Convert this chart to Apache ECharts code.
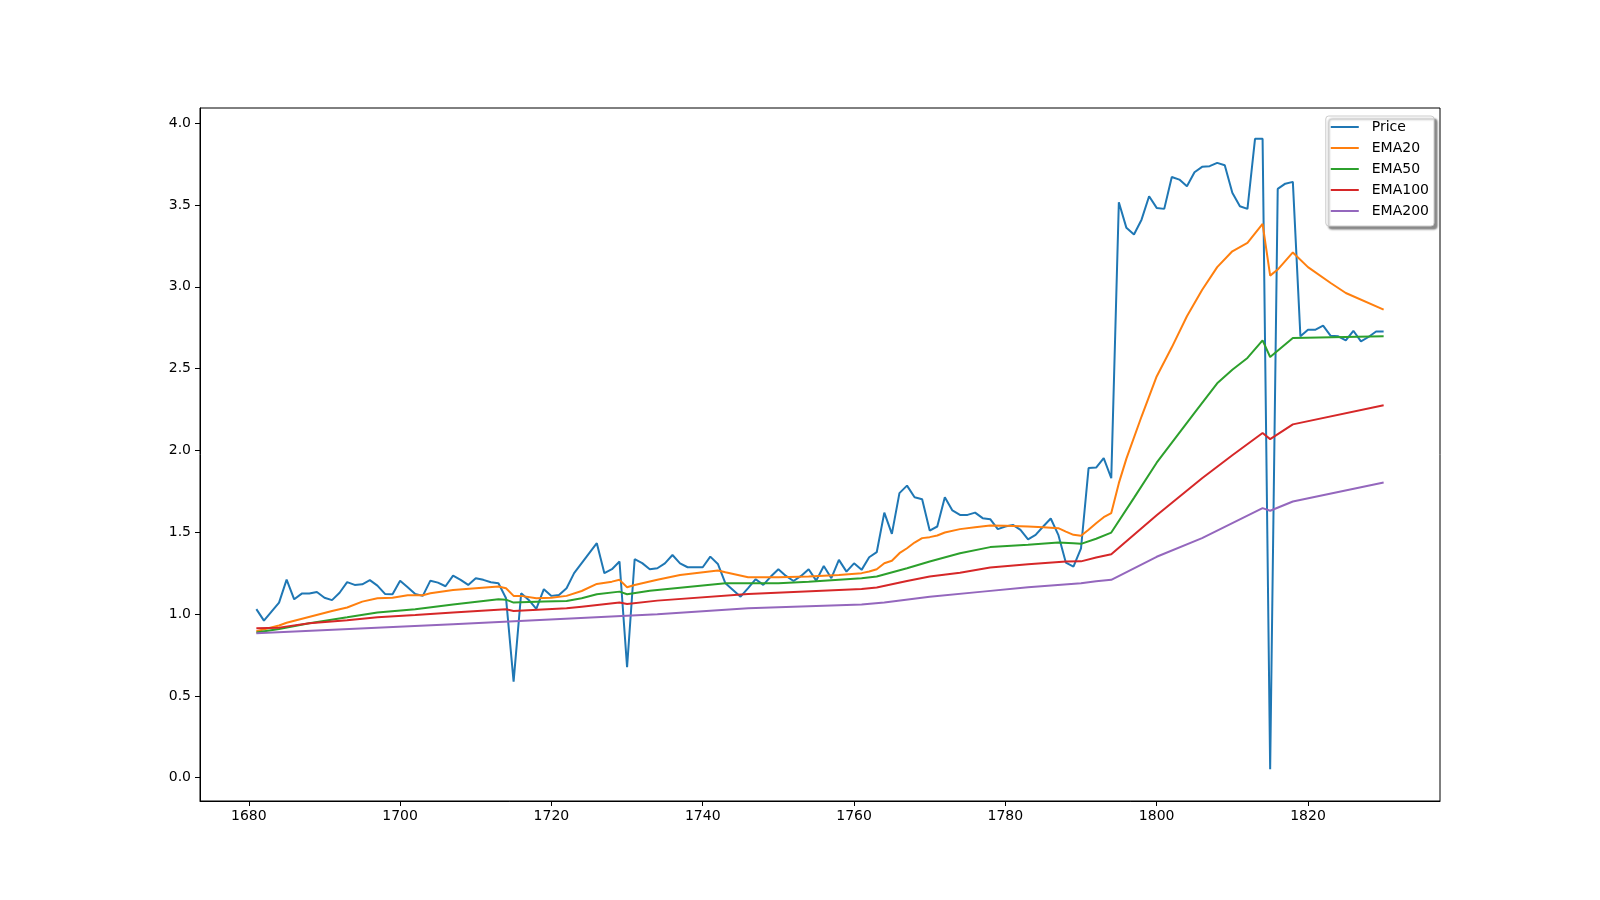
<!DOCTYPE html>
<html>
<head>
<meta charset="utf-8">
<script src="https://cdn.jsdelivr.net/npm/echarts@6/dist/echarts.min.js"></script>
<style>
html,body{margin:0;padding:0;background:#fff;}
#chart{width:1600px;height:900px;}
</style>
</head>
<body>
<div id="chart"></div>
<script>
// ---- data ----
const priceYears = [
1681,1682,1683,1684,1685,1686,1687,1688,1689,1690,
1691,1692,1693,1694,1695,1696,1697,1698,1699,1700,
1701,1702,1703,1704,1705,1706,1707,1708,1709,1710,
1711,1712,1713,1714,1715,1716,1717,1718,1719,1720,
1721,1722,1723,1724,1725,1726,1727,1728,1729,1730,
1731,1732,1733,1734,1735,1736,1737,1738,1739,1740,
1741,1742,1743,1744,1745,1746,1747,1748,1749,1750,
1751,1752,1753,1754,1755,1756,1757,1758,1759,1760,
1761,1762,1763,1764,1765,1766,1767,1768,1769,1770,
1771,1772,1773,1774,1775,1776,1777,1778,1779,1780,
1781,1782,1783,1784,1785,1786,1787,1788,1789,1790,
1791,1792,1793,1794,1795,1796,1797,1798,1799,1800,
1801,1802,1803,1804,1805,1806,1807,1808,1809,1810,
1811,1812,1813,1814,1815,1816,1817,1818,1819,1820,
1821,1822,1823,1824,1825,1826,1827,1828,1829,1830
];
const priceValues = [
1.03,0.96,1.015,1.07,1.21,1.09,1.125,1.125,1.135,1.10,
1.085,1.13,1.195,1.178,1.182,1.207,1.174,1.123,1.121,1.204,
1.164,1.123,1.111,1.204,1.192,1.17,1.235,1.209,1.178,1.219,
1.209,1.194,1.188,1.097,0.587,1.127,1.086,1.031,1.152,1.111,
1.117,1.158,1.25,1.311,1.372,1.433,1.25,1.274,1.321,0.675,
1.335,1.311,1.274,1.28,1.31,1.361,1.31,1.286,1.286,1.286,
1.351,1.306,1.188,1.147,1.106,1.158,1.213,1.178,1.229,1.274,
1.233,1.202,1.233,1.274,1.204,1.294,1.219,1.331,1.259,1.31,
1.27,1.347,1.378,1.62,1.49,1.739,1.785,1.714,1.702,1.51,
1.535,1.714,1.633,1.606,1.606,1.62,1.586,1.58,1.519,1.535,
1.545,1.514,1.457,1.484,1.535,1.584,1.484,1.314,1.29,1.402,
1.892,1.895,1.953,1.83,3.516,3.36,3.319,3.41,3.553,3.482,
3.476,3.671,3.655,3.614,3.70,3.733,3.737,3.757,3.743,3.574,
3.492,3.476,3.904,3.904,0.051,3.598,3.63,3.641,2.697,2.738,
2.738,2.762,2.70,2.697,2.672,2.731,2.666,2.693,2.727,2.727
];

const ema20Years  = [1681,1684,1685,1691,1693,1695,1697,1699,1701,1703,1704,1707,1710,1713,1714,1715,1716,1718,1720,1722,1724,1726,1728,1729,1730,1731,1734,1737,1742,1743,1746,1750,1754,1758,1761,1762,1763,1764,1765,1766,1767,1768,1769,1770,1771,1772,1774,1776,1778,1780,1783,1785,1787,1788,1789,1790,1791,1792,1793,1794,1795,1796,1798,1800,1802,1804,1806,1808,1810,1812,1814,1815,1816,1818,1820,1823,1825,1830];
const ema20Values = [0.895,0.93,0.947,1.019,1.04,1.076,1.097,1.10,1.115,1.115,1.127,1.147,1.158,1.168,1.158,1.111,1.111,1.097,1.10,1.111,1.141,1.184,1.198,1.209,1.164,1.178,1.209,1.239,1.266,1.255,1.225,1.225,1.23,1.239,1.25,1.26,1.274,1.31,1.326,1.372,1.402,1.437,1.464,1.47,1.48,1.498,1.519,1.53,1.541,1.54,1.535,1.53,1.525,1.504,1.484,1.478,1.515,1.555,1.592,1.617,1.80,1.95,2.207,2.452,2.63,2.82,2.98,3.12,3.217,3.268,3.384,3.068,3.105,3.21,3.12,3.023,2.962,2.86];

const ema50Years  = [1681,1684,1688,1693,1697,1702,1707,1713,1714,1715,1719,1722,1724,1726,1729,1730,1733,1742,1743,1750,1754,1761,1763,1767,1770,1774,1778,1783,1787,1789,1790,1792,1794,1797,1800,1805,1808,1810,1812,1814,1815,1818,1830];
const ema50Values = [0.887,0.909,0.944,0.98,1.009,1.029,1.058,1.09,1.088,1.07,1.076,1.08,1.097,1.121,1.137,1.121,1.143,1.184,1.188,1.188,1.198,1.219,1.229,1.28,1.321,1.372,1.409,1.423,1.437,1.433,1.429,1.46,1.498,1.71,1.925,2.23,2.41,2.493,2.565,2.672,2.571,2.687,2.697];

const ema100Years  = [1681,1684,1688,1693,1697,1702,1707,1714,1715,1722,1724,1729,1730,1734,1746,1761,1763,1767,1770,1774,1778,1783,1788,1790,1792,1794,1800,1806,1810,1814,1815,1818,1830];
const ema100Values = [0.913,0.917,0.944,0.962,0.98,0.994,1.009,1.029,1.019,1.035,1.045,1.07,1.062,1.082,1.123,1.153,1.162,1.202,1.229,1.253,1.284,1.305,1.321,1.322,1.345,1.366,1.604,1.83,1.97,2.106,2.069,2.159,2.276];

const ema200Years  = [1681,1707,1734,1746,1761,1764,1770,1777,1783,1790,1792,1794,1800,1806,1814,1815,1818,1830];
const ema200Values = [0.883,0.938,0.999,1.035,1.058,1.07,1.105,1.137,1.164,1.188,1.20,1.209,1.35,1.464,1.647,1.631,1.688,1.804];

const xTicks = [1680,1700,1720,1740,1760,1780,1800,1820];
const yTicks = [0.0,0.5,1.0,1.5,2.0,2.5,3.0,3.5,4.0];
const seriesNames = ['Price','EMA20','EMA50','EMA100','EMA200'];
const seriesColors = ['#1f77b4','#ff7f0e','#2ca02c','#d62728','#9467bd'];

// ---- build ----
function pairs(xs, ys){ return xs.map((x,i)=>[x, ys[i]]); }
const allData = [
  pairs(priceYears, priceValues),
  pairs(ema20Years, ema20Values),
  pairs(ema50Years, ema50Values),
  pairs(ema100Years, ema100Values),
  pairs(ema200Years, ema200Values)
];

const FONT = 'DejaVu Sans';
const chart = echarts.init(document.getElementById('chart'), null, {renderer:'canvas'});
chart.setOption({
  animation:false,
  backgroundColor:'#ffffff',
  grid:{left:200, right:160, top:108, bottom:99, show:true, borderColor:'#000', borderWidth:1, backgroundColor:'transparent'},
  legend:{
    orient:'vertical', right:166, top:116,
    data:seriesNames,
    icon:'rect', itemWidth:28, itemHeight:2, itemGap:7,
    padding:[4,5,8,5],
    backgroundColor:'#ffffff', borderColor:'#cccccc', borderWidth:1, borderRadius:3,
    shadowColor:'rgba(0,0,0,0.45)', shadowBlur:2, shadowOffsetX:3, shadowOffsetY:3,
    textStyle:{fontFamily:FONT, fontSize:14, lineHeight:14, color:'#000', padding:[0,0,0,8]}
  },
  xAxis:{
    type:'value', min:1673.55, max:1837.45,
    axisLine:{show:true, onZero:false, lineStyle:{color:'#000', width:1}},
    axisTick:{show:true, length:5, lineStyle:{color:'#000', width:1}, customValues:xTicks},
    axisLabel:{show:true, margin:8, color:'#000', fontFamily:FONT, fontSize:14, customValues:xTicks,
      formatter:v=>String(Math.round(v))},
    splitLine:{show:false}
  },
  yAxis:{
    type:'value', min:-0.1425, max:4.0925,
    axisLine:{show:true, onZero:false, lineStyle:{color:'#000', width:1}},
    axisTick:{show:true, length:5, lineStyle:{color:'#000', width:1}, customValues:yTicks},
    axisLabel:{show:true, margin:9, color:'#000', fontFamily:FONT, fontSize:14, customValues:yTicks,
      formatter:v=>Number(v).toFixed(1)},
    splitLine:{show:false}
  },
  series: seriesNames.map((name,i)=>({
    name:name, type:'line', data:allData[i],
    symbol:'none', showSymbol:false, smooth:false,
    lineStyle:{color:seriesColors[i], width:2},
    itemStyle:{color:seriesColors[i]},
    emphasis:{disabled:true}
  }))
});
</script>
</body>
</html>
